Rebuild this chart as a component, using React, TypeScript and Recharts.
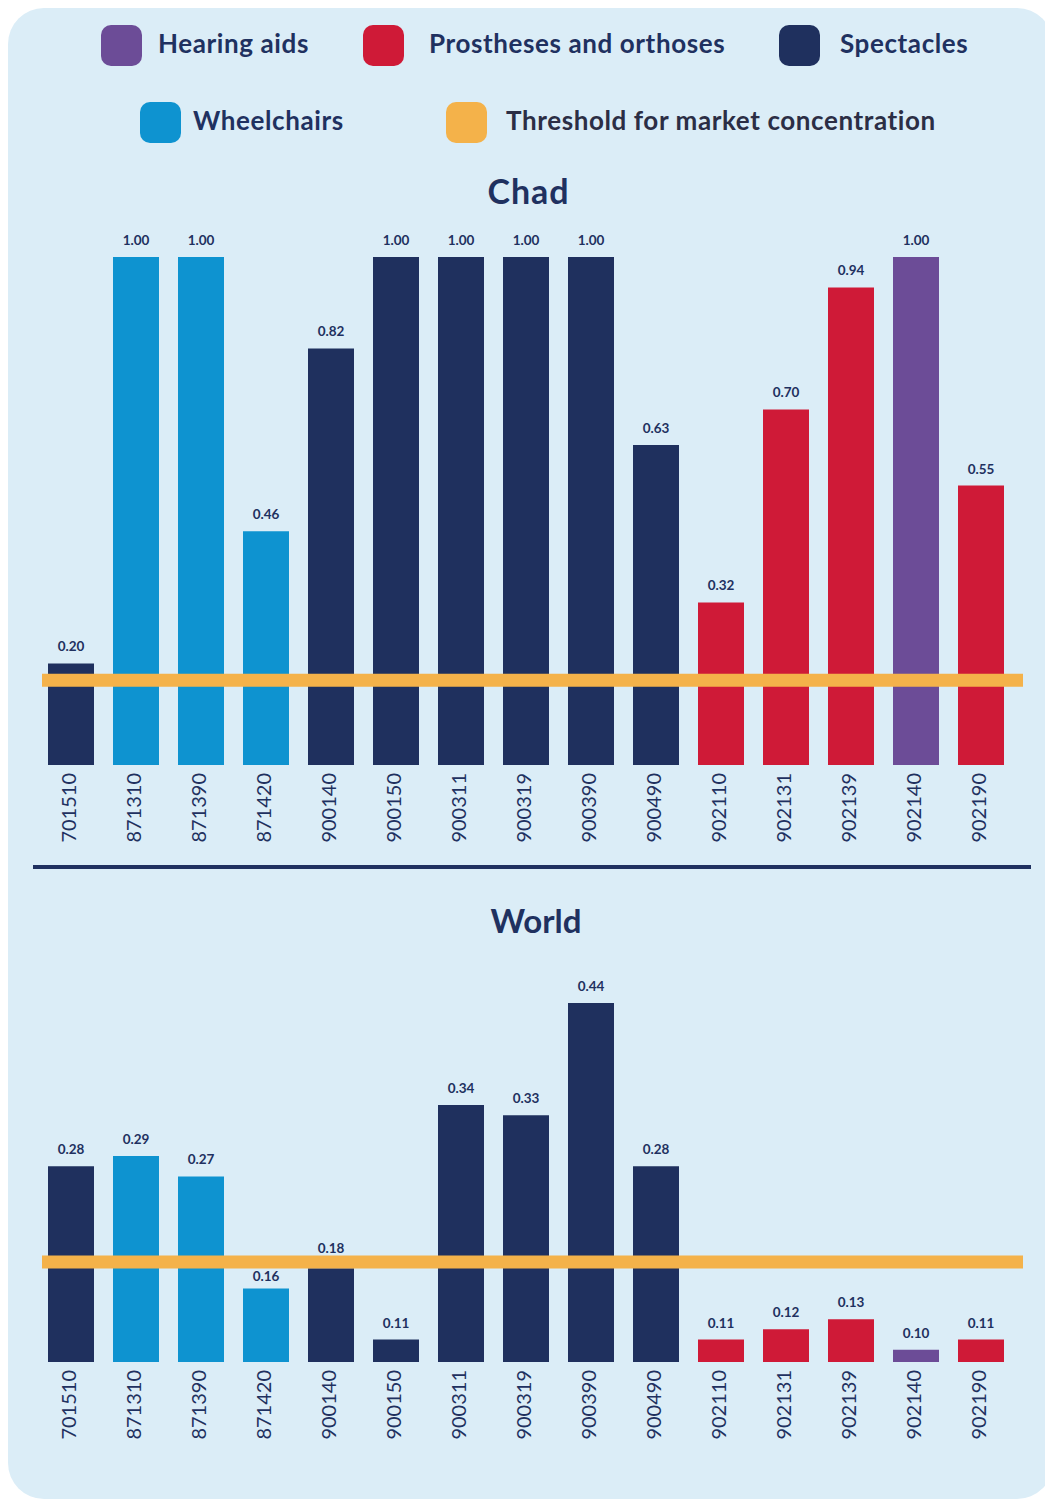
import { BarChart, Bar, XAxis, YAxis, Cell, LabelList, ReferenceLine } from 'recharts';

const codes = [
  '701510', '871310', '871390', '871420', '900140', '900150', '900311', '900319',
  '900390', '900490', '902110', '902131', '902139', '902140', '902190',
];

const groups = [
  'Spectacles', 'Wheelchairs', 'Wheelchairs', 'Wheelchairs', 'Spectacles', 'Spectacles',
  'Spectacles', 'Spectacles', 'Spectacles', 'Spectacles', 'Prostheses and orthoses',
  'Prostheses and orthoses', 'Prostheses and orthoses', 'Hearing aids', 'Prostheses and orthoses',
];

const chadValues = [0.2, 1.0, 1.0, 0.46, 0.82, 1.0, 1.0, 1.0, 1.0, 0.63, 0.32, 0.7, 0.94, 1.0, 0.55];
const worldValues = [0.28, 0.29, 0.27, 0.16, 0.18, 0.11, 0.34, 0.33, 0.44, 0.28, 0.11, 0.12, 0.13, 0.1, 0.11];

const chadThreshold = 0.167;
const worldThreshold = 0.186;

const GROUP_COLORS: Record<string, string> = {
  'Hearing aids': '#6c4c97',
  'Prostheses and orthoses': '#cf1a37',
  Spectacles: '#1f305e',
  Wheelchairs: '#0e93d0',
};
const THRESHOLD_COLOR = '#f4b24a';
const NAVY = '#1f3160';
const BG = '#dbedf7';
const FONT = 'Lato, "Open Sans", sans-serif';

const legendItems = [
  { name: 'Hearing aids', color: GROUP_COLORS['Hearing aids'], sx: 93, tx: 150, row: 0 },
  { name: 'Prostheses and orthoses', color: GROUP_COLORS['Prostheses and orthoses'], sx: 355, tx: 421, row: 0 },
  { name: 'Spectacles', color: GROUP_COLORS.Spectacles, sx: 771, tx: 832, row: 0 },
  { name: 'Wheelchairs', color: GROUP_COLORS.Wheelchairs, sx: 132, tx: 185, row: 1 },
  { name: 'Threshold for market concentration', color: THRESHOLD_COLOR, sx: 438, tx: 498, row: 1, dark: true },
];

const CodeTick = (props: any) => {
  const { x, y, payload } = props;
  return (
    <text
      transform={`translate(${x - 2},${y + 8}) rotate(-90)`}
      textAnchor="end"
      dy="0.36em"
      fontSize={20}
      fontFamily={FONT}
      fill={NAVY}
    >
      {payload.value}
    </text>
  );
};

// value labels sit above the bar, but get nudged off the threshold line when they would overlap it
const makeLabel = (threshold: number, domainMin: number) => (props: any) => {
  const { x, y, width, height, value } = props;
  const baseline = y + height;
  const ppu = height / (value - domainMin);
  const lineY = baseline - (threshold - domainMin) * ppu;
  const half = 6.5;
  let bottom = y - 12;
  const overlaps = bottom > lineY - half && bottom - 10 < lineY + half;
  if (overlaps) {
    if (y > lineY + half) bottom = Math.min(y - 4, lineY + half + 12);
    else bottom = lineY - half - 3;
  }
  return (
    <text
      x={x + width / 2}
      y={bottom}
      textAnchor="middle"
      fontSize={13.5}
      fontWeight={700}
      fontFamily={FONT}
      fill={NAVY}
    >
      {Number(value).toFixed(2)}
    </text>
  );
};

const ThresholdShape = (props: any) => {
  const { x1, y1, x2, y2 } = props;
  return <line x1={x1 + 4} y1={y1} x2={x2} y2={y2} stroke={THRESHOLD_COLOR} strokeWidth={13} />;
};

interface PanelChartProps {
  values: number[];
  threshold: number;
  domain: [number, number];
  top: number;
  height: number;
  marginTop: number;
}

const PanelChart = ({ values, threshold, domain, top, height, marginTop }: PanelChartProps) => {
  const data = codes.map((code, i) => ({ code, value: values[i], group: groups[i] }));
  return (
    <div style={{ position: 'absolute', left: 0, top }}>
      <BarChart width={1045} height={height} data={data} margin={{ top: marginTop, right: 30, bottom: 0, left: 30 }}>
        <XAxis
          dataKey="code"
          axisLine={false}
          tickLine={false}
          tickSize={0}
          tickMargin={0}
          height={100}
          interval={0}
          padding={{ left: 0, right: 10 }}
          tick={<CodeTick />}
        />
        <YAxis hide type="number" scale="linear" domain={domain} allowDataOverflow />
        <Bar dataKey="value" barSize={46} isAnimationActive={false}>
          {data.map((d, i) => (
            <Cell key={`cell-${i}`} fill={GROUP_COLORS[d.group]} />
          ))}
          <LabelList dataKey="value" content={makeLabel(threshold, domain[0])} />
        </Bar>
        <ReferenceLine y={threshold} stroke={THRESHOLD_COLOR} strokeWidth={13} shape={ThresholdShape} />
      </BarChart>
    </div>
  );
};

const App = () => {
  return (
    <div
      style={{
        position: 'relative',
        width: 1045,
        height: 1491,
        background: BG,
        borderRadius: 36,
        fontFamily: FONT,
        overflow: 'hidden',
      }}
    >
      {legendItems.map((item) => (
        <div key={item.name}>
          <div
            style={{
              position: 'absolute',
              left: item.sx,
              top: item.row === 0 ? 17 : 94,
              width: 41,
              height: 41,
              borderRadius: 10,
              background: item.color,
            }}
          />
          <div
            style={{
              position: 'absolute',
              left: item.tx,
              top: item.row === 0 ? 22 : 99,
              fontSize: 26,
              lineHeight: 1,
              fontWeight: 700,
              letterSpacing: 0.6,
              color: item.dark ? '#2b2e45' : NAVY,
              whiteSpace: 'nowrap',
            }}
          >
            {item.name}
          </div>
        </div>
      ))}

      <div
        style={{
          position: 'absolute',
          left: 0,
          width: 1041,
          top: 166,
          textAlign: 'center',
          fontSize: 34,
          lineHeight: 1,
          fontWeight: 700,
          letterSpacing: 1,
          color: NAVY,
        }}
      >
        Chad
      </div>

      <PanelChart values={chadValues} threshold={chadThreshold} domain={[0, 1]} top={200} height={657} marginTop={49} />

      <div style={{ position: 'absolute', left: 25, top: 857, width: 998, height: 4, background: NAVY }} />

      <div
        style={{
          position: 'absolute',
          left: 0,
          width: 1056,
          top: 896,
          textAlign: 'center',
          fontSize: 33,
          lineHeight: 1,
          fontWeight: 700,
          color: NAVY,
        }}
      >
        World
      </div>

      <PanelChart values={worldValues} threshold={worldThreshold} domain={[0.088, 0.44]} top={932} height={522} marginTop={63} />
    </div>
  );
};

export default App;
